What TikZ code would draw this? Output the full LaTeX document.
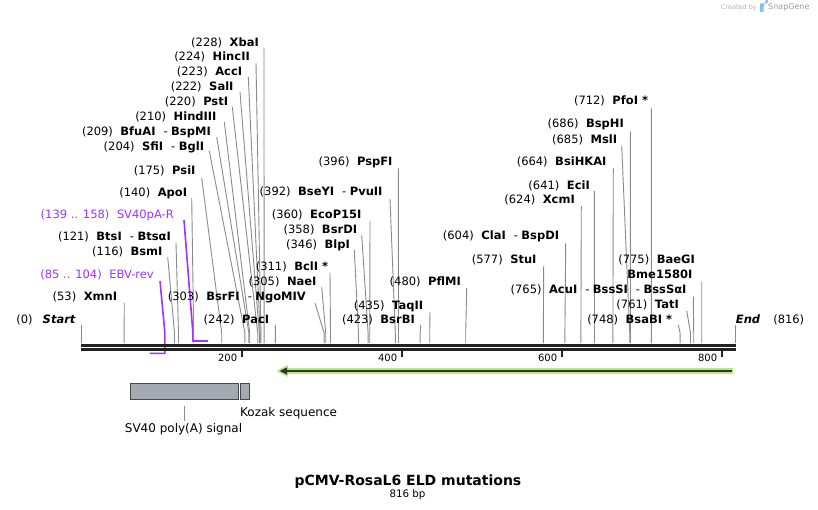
\documentclass[tikz,border=0pt]{standalone}
\usepackage{fontspec}
\setmainfont{DejaVu Sans}
\usetikzlibrary{calc}
\definecolor{bbone}{HTML}{222222}
\definecolor{sitegray}{HTML}{8A8A8A}
\definecolor{prim}{HTML}{A035F0}
\definecolor{orfgreen}{HTML}{B4EC80}
\definecolor{orfdark}{HTML}{333333}
\definecolor{featgray}{HTML}{A4AAB2}
\definecolor{featedge}{HTML}{484848}
\definecolor{sgblue}{HTML}{7FC4F0}
\newcommand{\gapp}{\hspace{7.5pt}}
\newcommand{\dsh}{\hspace{8pt}-\hspace{3.5pt}}
\newcommand{\pn}[2]{(#1)\gapp\textbf{#2}}
\newcommand{\enz}[7]{%
  \node[lab, anchor=base east] (#1) at (#2,#3) {#4};
  \coordinate (#1s) at (#5,#6);
  \coordinate (#1k) at ({81.7+0.8*#7},333);
  \coordinate (#1e) at ({81.7+0.8*#7},343);
  \draw[site] (#1s) -- (#1k) -- (#1e);
}
\tikzset{
  lab/.style={inner sep=0pt, font=\fontsize{11.5}{13}\selectfont, text=black},
  plab/.style={inner sep=0pt, font=\fontsize{11.5}{13}\selectfont, text=prim},
  site/.style={draw=sitegray, line width=0.9pt},
  primline/.style={draw=prim, line width=1.6pt},
  bbline/.style={draw=bbone, line width=2.6pt},
  tickline/.style={draw=bbone, line width=2pt},
  ticklab/.style={inner sep=0pt, font=\fontsize{10}{12}\selectfont},
  featbox/.style={fill=featgray, draw=featedge, line width=1pt},
  featlab/.style={inner sep=0pt, font=\fontsize{12}{14}\selectfont},
}
\begin{document}
\begin{tikzpicture}[x=1pt, y=-1pt]
\useasboundingbox (0,0) rectangle (818,510);
\fill[white] (0,0) rectangle (818,510);

% created by
\node[inner sep=0pt, anchor=base east, font=\fontsize{6.5}{8}\selectfont, text=black!30] (cby) at (757,10) {Created by};
\fill[sgblue] (760,3.5) rectangle (763.5,12) (763.5,3.5) -- (766,3.5) arc[start angle=90, end angle=-90, radius=2.2] -- (763.5,7.9) -- cycle;
\node[inner sep=0pt, anchor=base west, font=\fontsize{8}{9}\selectfont, text=black!38] (sg) at (768,10) {SnapGene};

% primers (drawn below backbone)
\node[plab, anchor=base east] (SVR) at (174,219) {(139 .. 158)\gapp SV40pA-R};
\coordinate (SVRs) at (184,220);
\coordinate (SVRk) at (192.9,333);
\coordinate (SVRa) at (192.9,341);
\coordinate (SVRb) at (208.1,341);
\draw[primline] (SVRs) -- (SVRk) -- (SVRa) -- (SVRb);
\node[plab, anchor=base east] (EBV) at (154,279) {(85 .. 104)\gapp EBV-rev};
\coordinate (EBVs) at (160,281);
\coordinate (EBVk) at (164.9,333);
\coordinate (EBVa) at (164.9,353.3);
\coordinate (EBVb) at (149.7,353.3);
\draw[primline] (EBVs) -- (EBVk) -- (EBVa) -- (EBVb);

% enzymes
\enz{XbaI}{259}{46.7}{\pn{228}{XbaI}}{264}{48}{228}
\enz{HincII}{250}{61}{\pn{224}{HincII}}{256}{63}{224}
\enz{AccI}{242.3}{76}{\pn{223}{AccI}}{248.3}{77}{223}
\enz{SalI}{233.7}{91}{\pn{222}{SalI}}{240}{92}{222}
\enz{PstI}{228.3}{106}{\pn{220}{PstI}}{232.3}{107}{220}
\enz{HindIII}{216.7}{121}{\pn{210}{HindIII}}{224.3}{122}{210}
\enz{BfuAI}{211}{136}{(209)\gapp\textbf{BfuAI}\dsh\textbf{BspMI}}{216.7}{137}{209}
\enz{SfiI}{204.3}{151}{(204)\gapp\textbf{SfiI}\dsh\textbf{BglI}}{209.3}{151}{204}
\enz{PsiI}{195.7}{174.3}{\pn{175}{PsiI}}{201.7}{178}{175}
\enz{ApoI}{187.3}{196.7}{\pn{140}{ApoI}}{191.7}{198}{140}
\enz{BtsI}{171}{241}{(121)\gapp\textbf{BtsI}\dsh\textbf{BtsαI}}{176}{243}{121}
\enz{BsmI}{162.7}{256}{\pn{116}{BsmI}}{167.7}{257}{116}
\enz{XmnI}{117.3}{300.7}{\pn{53}{XmnI}}{124.3}{303}{53}
\enz{Start}{76}{323.3}{(0)\hspace{10pt}\textbf{\textit{Start}}}{81.7}{325}{0}
\enz{BsrFI}{306}{300.7}{(303)\gapp\textbf{BsrFI}\dsh\textbf{NgoMIV}}{315}{303}{303}
\enz{PacI}{269.3}{323.3}{\pn{242}{PacI}}{275.3}{325}{242}
\enz{NaeI}{316.7}{285}{\pn{305}{NaeI}}{321.7}{287}{305}
\enz{BclI}{328.3}{270.7}{\pn{311}{BclI *}}{330}{272.7}{311}
\enz{BlpI}{350}{248.3}{\pn{346}{BlpI}}{354.3}{250}{346}
\enz{BsrDI}{357.3}{233.3}{\pn{358}{BsrDI}}{361.7}{235}{358}
\enz{EcoP}{361.7}{218.3}{\pn{360}{EcoP15I}}{370}{221}{360}
\enz{BseYI}{382.7}{195.7}{(392)\gapp\textbf{BseYI}\dsh\textbf{PvuII}}{390}{199}{392}
\enz{PspFI}{392.7}{165.7}{\pn{396}{PspFI}}{398.3}{168.3}{396}
\enz{BsrBI}{415}{323.3}{\pn{423}{BsrBI}}{420.7}{325}{423}
\enz{TaqII}{423.3}{309}{\pn{435}{TaqII}}{430}{311.7}{435}
\enz{PflMI}{461}{285.7}{\pn{480}{PflMI}}{466.7}{288}{480}
\enz{ClaI}{559.3}{240}{(604)\gapp\textbf{ClaI}\dsh\textbf{BspDI}}{565.7}{243}{604}
\enz{StuI}{536.7}{264}{\pn{577}{StuI}}{543.7}{266}{577}
\enz{XcmI}{575}{203.3}{\pn{624}{XcmI}}{581.3}{206}{624}
\enz{EciI}{590}{189.3}{\pn{641}{EciI}}{594.3}{191}{641}
\enz{BsiHKAI}{606.7}{165.7}{\pn{664}{BsiHKAI}}{613.3}{168.3}{664}
\enz{MslI}{617.3}{144}{\pn{685}{MslI}}{621.7}{145.7}{685}
\enz{BspHI}{624}{127.7}{\pn{686}{BspHI}}{630.3}{131.7}{686}
\enz{PfoI}{648.3}{105}{\pn{712}{PfoI *}}{651.3}{108.3}{712}
\enz{BaeGI}{695}{264}{\pn{775}{BaeGI}}{701.7}{281.7}{775}
\node[lab, anchor=base east] (Bme) at (692.5,278.3) {\textbf{Bme1580I}};
\enz{AcuI}{686.7}{293.3}{(765)\gapp\textbf{AcuI}\dsh\textbf{BssSI}\dsh\textbf{BssSαI}}{693.3}{296.7}{765}
\enz{TatI}{679}{308.3}{\pn{761}{TatI}}{686.7}{310.7}{761}
\enz{BsaBI}{672.3}{323.3}{\pn{748}{BsaBI *}}{678.3}{325}{748}
\node[lab, anchor=base west] (End) at (735.7,323.3) {\textbf{\textit{End}}\hspace{13pt}(816)};
\coordinate (Ends) at (735.7,325);
\coordinate (Ende) at (735.7,343);
\draw[site] (Ends) -- (Ende);

% backbone
\coordinate (bbL1) at (81.2,345.3);
\coordinate (bbR1) at (736.2,345.3);
\coordinate (bbL2) at (81.2,349.7);
\coordinate (bbR2) at (736.2,349.7);
\draw[bbline] (bbL1) -- (bbR1);
\draw[bbline] (bbL2) -- (bbR2);

% ticks
\foreach \v/\x in {200/241.7, 400/401.7, 600/561.7, 800/721.7}{
  \coordinate (t\v a) at (\x,351);
  \coordinate (t\v b) at (\x,357.3);
  \draw[tickline] (t\v a) -- (t\v b);
  \node[ticklab, anchor=base east] (tl\v) at (\x-4.3,361) {\v};
}

% green ORF arrow (reverse)
\coordinate (orfR) at (733,371);
\coordinate (orfL) at (286,371);
\fill[orfgreen] (276.5,371) -- (288,364.8) -- (288,377.2) -- cycle;
\draw[orfgreen, line width=5.5pt] (orfR) -- (orfL);
\draw[orfdark, line width=2.2pt] ($(orfR)+(-1.5,0)$) -- ($(orfL)+(0,0)$);
\fill[orfdark] (279.5,371) -- (287,367.4) -- (287,374.6) -- cycle;

% features
\node[featbox, minimum width=108.2pt, minimum height=16.3pt, inner sep=0pt, anchor=north west] (sv40) at (130,383) {};
\node[featbox, minimum width=8.7pt, minimum height=16.3pt, inner sep=0pt, anchor=north west] (kozak) at (240.2,383) {};
\node[featlab, anchor=base] (sv40l) at (183.5,432) {SV40 poly(A) signal};
\coordinate (sv40t) at (184.3,406);
\coordinate (sv40u) at (184.3,421);
\draw[draw=black!45, line width=0.9pt] (sv40t) -- (sv40u);
\node[featlab, anchor=base west] (kozakl) at (240,416) {Kozak sequence};

% title
\node[inner sep=0pt, anchor=base, font=\bfseries\fontsize{14}{16}\selectfont] (title) at (408,485) {pCMV-RosaL6 ELD mutations};
\node[inner sep=0pt, anchor=base, font=\fontsize{10.3}{12}\selectfont] (bp) at (407.5,497) {816 bp};
\end{tikzpicture}
\end{document}
